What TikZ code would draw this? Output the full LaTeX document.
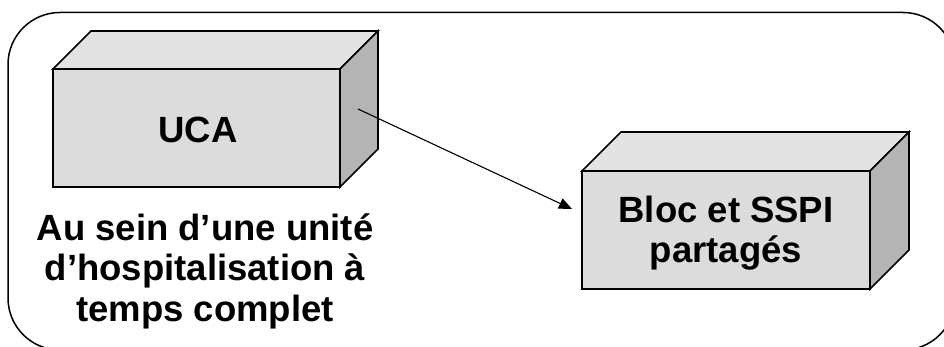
\documentclass[tikz,border=0pt]{standalone}
\usepackage{fontspec}
\setmainfont{Liberation Sans}
\usetikzlibrary{arrows.meta}
\definecolor{frontc}{HTML}{DCDCDC}
\definecolor{topc}{HTML}{E2E2E2}
\definecolor{sidec}{HTML}{B4B4B4}
\tikzset{
  face/.style={draw=black, line width=1.6pt, line join=miter},
  label/.style={font=\fontsize{36.5}{40.5}\selectfont\bfseries, align=center, inner sep=0pt},
  frame/.style={draw=black, line width=1.5pt, rounded corners=52pt},
  link/.style={draw=black, line width=1.1pt, -{Triangle[length=13pt,width=11pt]}}
}
% cuboid: x1 y1 x2 y2 (front face), dx dy (depth)
\newcommand{\mycuboid}[6]{%
  \path[face, fill=topc] (#1,#2) -- ++(#5,-#6) -- (#3+#5,#2-#6) -- (#3,#2) -- cycle;
  \path[face, fill=sidec] (#3,#2) -- (#3+#5,#2-#6) -- (#3+#5,#4-#6) -- (#3,#4) -- cycle;
  \path[face, fill=frontc] (#1,#2) rectangle (#3,#4);
}
\begin{document}
\begin{tikzpicture}[x=1pt,y=-1pt]
\useasboundingbox (0,0) rectangle (944,347);
\begin{scope}
\clip (0,0) rectangle (944,347);
\path[frame] (8,12.5) rectangle (955,350);
\end{scope}
\mycuboid{53}{69}{340}{187}{38}{38}
\mycuboid{582}{171}{870}{289}{39}{39}
\node[label] (uca) at (198,130) {UCA};
\node[label] (bloc) at (726,233) {Bloc et SSPI\\partagés};
\node[label] (lbl) at (205,271) {Au sein d’une unité\\d’hospitalisation à\\temps complet};
\coordinate (ucaside) at (358,109);
\coordinate (blocin) at (572,209);
\draw[link] (ucaside) -- (blocin);
\end{tikzpicture}
\end{document}
